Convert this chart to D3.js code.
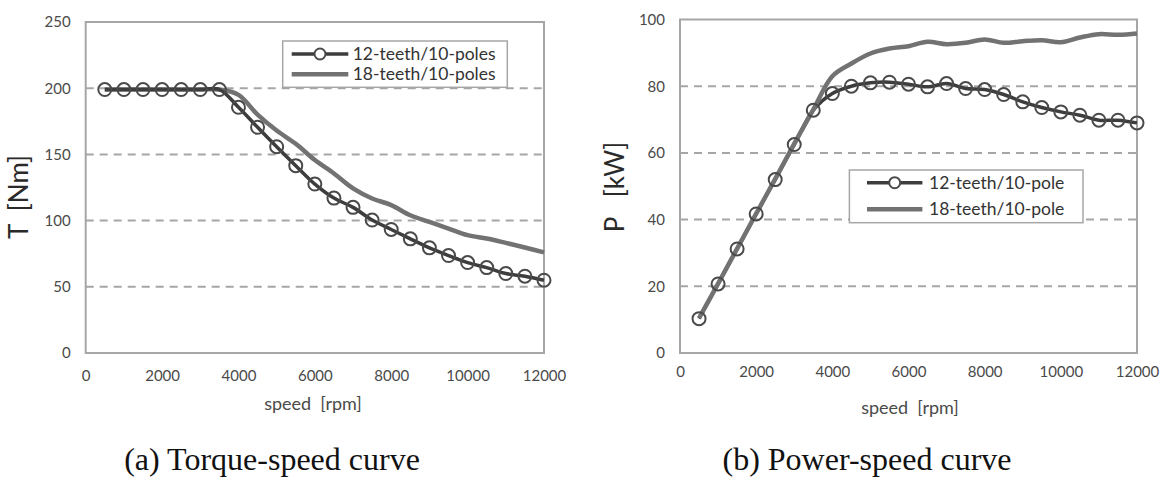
<!DOCTYPE html>
<html><head><meta charset="utf-8">
<script src="https://cdn.jsdelivr.net/npm/d3@7"></script>
<style>body{margin:0;background:#fff}svg{display:block}</style>
</head><body>
<svg id="chart" width="1165" height="479"></svg>
<script>
const speeds = [500,1000,1500,2000,2500,3000,3500,4000,4500,5000,5500,6000,6500,7000,7500,8000,8500,9000,9500,10000,10500,11000,11500,12000];
const torque12 = [199,199,199,199,199,199,199,185.6,170.5,155.8,141.5,127.6,117,110,100.4,93.3,86.2,79.4,73.6,68.3,64.5,60,58,55];
const torque18 = [199,199,199,199,199,199,199,195,180,168,158,145.7,135.6,124.3,116.7,111.7,104,99,94,89,86.5,83.2,79.7,76];
const power12 = [10.3,20.7,31.2,41.7,52,62.5,72.8,77.8,80,81,81.2,80.6,79.8,80.8,79.3,79,77.5,75.3,73.6,72.3,71.3,69.8,69.8,69];
const power18 = [10.5,20.8,31.3,41.8,52.2,62.8,73,83,86.8,89.8,91.3,92,93.3,92.6,93,94,93,93.5,93.8,93.2,94.6,95.6,95.4,95.8];
const xTicks = [0,2000,4000,6000,8000,10000,12000];
const torqueTicks = [0,50,100,150,200,250];
const powerTicks = [0,20,40,60,80,100];
const legendTorque = ["12-teeth/10-poles","18-teeth/10-poles"];
const legendPower = ["12-teeth/10-pole","18-teeth/10-pole"];
const captions = ["(a) Torque-speed curve","(b) Power-speed curve"];

const svg = d3.select("#chart");
const FONT = "Lato, 'Open Sans', sans-serif";
const C12 = "#3d3d3d", C18 = "#727272", GRID = "#a6a6a6", TXT = "#4a4a4a";

function panel(o){
  const x = d3.scaleLinear().domain([0,12000]).range([o.x0,o.x1]);
  const y = d3.scaleLinear().domain([0,o.ymax]).range([o.y0,o.y1]);
  const g = svg.append("g");
  g.selectAll(".grid").data(o.yTicks.filter(t=>t>0 && t<o.ymax)).enter().append("line")
    .attr("x1",o.x0).attr("x2",o.x1).attr("y1",d=>y(d)).attr("y2",d=>y(d))
    .attr("stroke",GRID).attr("stroke-width",2).attr("stroke-dasharray","8,6");
  g.append("rect").attr("x",o.x0).attr("y",o.y1).attr("width",o.x1-o.x0).attr("height",o.y0-o.y1)
    .attr("fill","none").attr("stroke",GRID).attr("stroke-width",2);
  const ya = d3.axisLeft(y).tickValues(o.yTicks).tickSize(0).tickPadding(15).tickFormat(d3.format("d"));
  const yg = g.append("g").attr("transform",`translate(${o.x0},0)`).call(ya);
  yg.select(".domain").remove();
  yg.selectAll("text").attr("font-family",FONT).attr("font-size",15).attr("fill",TXT);
  const xa = d3.axisBottom(x).tickValues(xTicks).tickSize(0).tickPadding(o.xpad).tickFormat(d3.format("d"));
  const xg = g.append("g").attr("transform",`translate(0,${o.y0})`).call(xa);
  xg.select(".domain").remove();
  xg.selectAll("text").attr("font-family",FONT).attr("font-size",15).attr("fill",TXT);
  g.append("text").attr("x",o.xtx).attr("y",o.xty).attr("text-anchor","middle")
    .attr("font-family",FONT).attr("font-size",18).attr("fill",TXT).attr("xml:space","preserve")
    .text("speed  [rpm]");
  g.append("text").attr("transform",`translate(${o.ytx},${o.yty}) rotate(-90)`).attr("text-anchor","middle")
    .attr("font-family",FONT).attr("font-size",26).attr("fill","#2a2a2a").attr("xml:space","preserve")
    .text(o.ytitle);
  const line = d3.line().x((d,i)=>x(speeds[i])).y(d=>y(d)).curve(d3.curveCatmullRom.alpha(0.5));
  const draw12 = ()=>g.append("path").attr("d",line(o.s12)).attr("fill","none").attr("stroke",C12).attr("stroke-width",3.5);
  const draw18 = ()=>g.append("path").attr("d",line(o.s18)).attr("fill","none").attr("stroke",C18).attr("stroke-width",4.5);
  if(o.darkTop){ draw18(); draw12(); } else { draw12(); draw18(); }
  g.selectAll(".pt").data(o.s12).enter().append("circle")
    .attr("cx",(d,i)=>x(speeds[i])).attr("cy",d=>y(d)).attr("r",6.5)
    .attr("fill","none").attr("stroke","#4a4a4a").attr("stroke-width",2);
  const L = o.leg;
  g.append("rect").attr("x",L.x).attr("y",L.y).attr("width",L.w).attr("height",L.h)
    .attr("fill","#fff").attr("stroke",GRID).attr("stroke-width",1.5);
  o.legText.forEach((t,i)=>{
    const ly = L.y + L.r1 + i*L.dy;
    g.append("line").attr("x1",L.x+L.lx0).attr("x2",L.x+L.lx1).attr("y1",ly).attr("y2",ly)
      .attr("stroke",i===0?C12:C18).attr("stroke-width",i===0?3.5:4.5);
    if(i===0) g.append("circle").attr("cx",L.x+(L.lx0+L.lx1)/2).attr("cy",ly).attr("r",5.5)
      .attr("fill","#fff").attr("stroke","#4a4a4a").attr("stroke-width",2);
    g.append("text").attr("x",L.x+L.tx).attr("y",ly).attr("dy","0.35em")
      .attr("font-family",FONT).attr("font-size",17.5).attr("fill","#333").text(t);
  });
  g.append("text").attr("x",o.capx).attr("y",470).attr("text-anchor","middle")
    .attr("font-family","'Liberation Serif', serif").attr("font-size",32).attr("fill","#111").text(o.caption);
}

panel({x0:85.7,x1:544,y0:353,y1:22,ymax:250,yTicks:torqueTicks,s12:torque12,s18:torque18,darkTop:true,
  xpad:17,xtx:313,xty:410,ytx:28,yty:197,ytitle:"T  [Nm]",
  leg:{x:282.7,y:41,w:224.6,h:46.3,r1:13,dy:20.3,lx0:9,lx1:65.6,tx:70},legText:legendTorque,
  capx:272,caption:captions[0]});
panel({x0:680,x1:1137,y0:353,y1:19.5,ymax:100,yTicks:powerTicks,s12:power12,s18:power18,darkTop:false,
  xpad:13,xtx:910,xty:414,ytx:624,yty:187,ytitle:"P   [kW]",
  leg:{x:849.4,y:170,w:233.6,h:52.7,r1:12.7,dy:26.6,lx0:17.6,lx1:73,tx:79.6},legText:legendPower,
  capx:867,caption:captions[1]});
</script>
</body></html>
